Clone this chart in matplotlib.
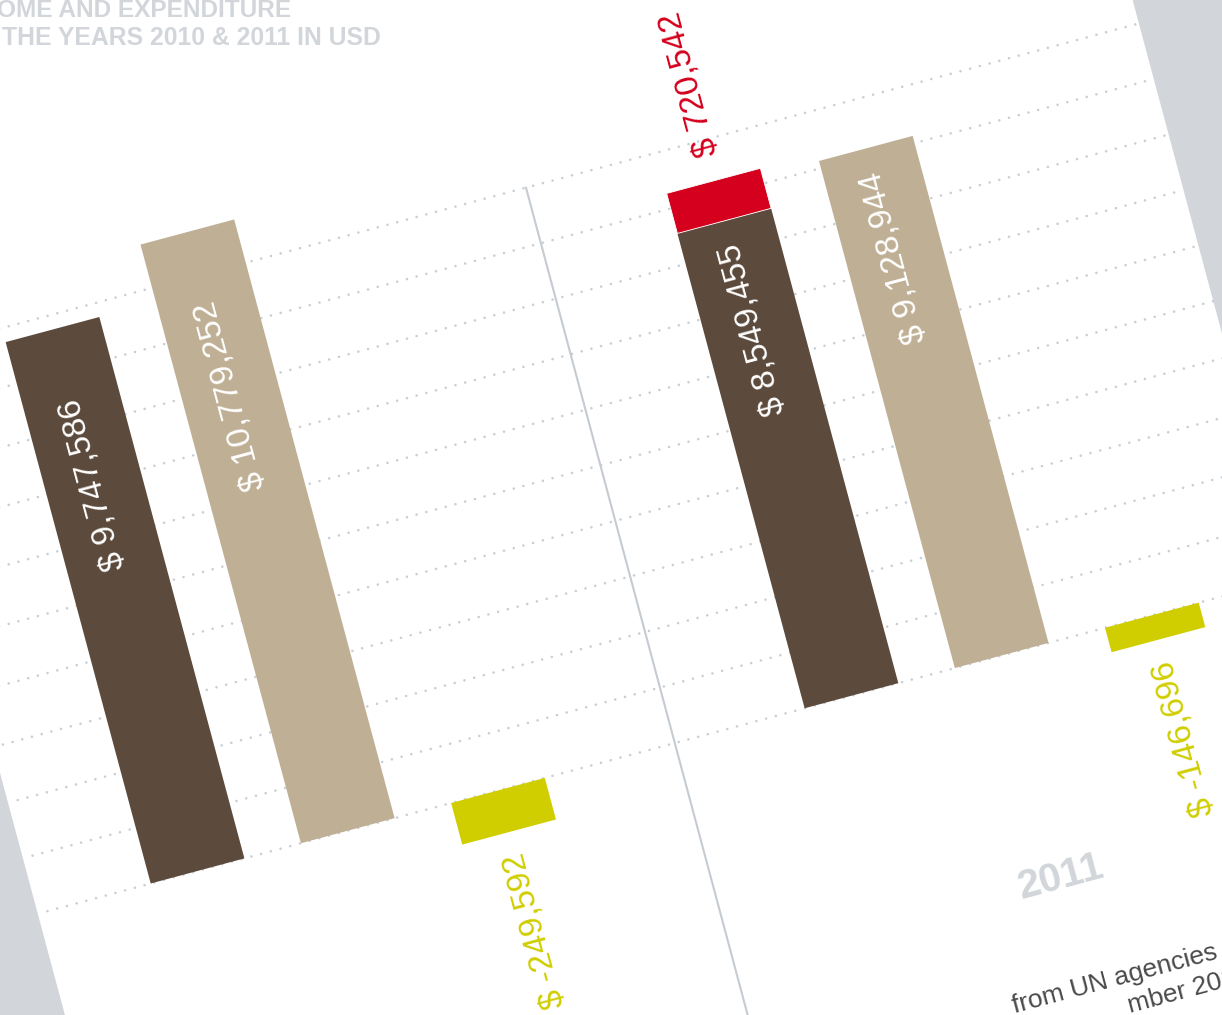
import numpy as np
import matplotlib.pyplot as plt
from matplotlib.transforms import Affine2D
from matplotlib.patches import Rectangle

plt.rcParams['font.family'] = ['Liberation Sans', 'DejaVu Sans']

# data (USD)
years = [2010, 2011]
income = [9747586, 8549455]
extra_income = [0, 720542]
expenditure = [10779252, 9128944]
balance = [-249592, -146696]
grid_steps = list(range(0, 11))  # millions

# colours
BROWN = '#5c4a3c'
TAN = '#bfb095'
YELLOW = '#d0ce00'
RED = '#d4001d'
GREY = '#d2d6da'
DOTS = '#c9ced3'

# layout of the tilted "page" (pixels)
W, H = 1222, 1015
ang = np.radians(15)
c, s = np.cos(ang), np.sin(ang)
BASE = 892.4            # zero line, measured along the page normal
PX = 57.5 / 1e6         # pixels per dollar
BAL_ZOOM = 3            # the small deficit bars are drawn 3x
SLOT = 155.5
BAR_W = 97
group_x = [-34.6, 642.4]
label_gap = [72, 24]
PAGE_L, PAGE_R = -200, 1094

fig = plt.figure(figsize=(W / 100, H / 100), dpi=100)
fig.patch.set_facecolor(GREY)
ax = fig.add_axes([0, 0, 1, 1])
ax.axis('off')

# page coords (x px along the page, y px above zero line) -> screen pixels
page = Affine2D(np.array([[c, -s, s * BASE],
                          [-s, -c, c * BASE],
                          [0, 0, 1]])) + ax.transData
money = Affine2D().scale(1, PX) + page

ax.add_patch(Rectangle((PAGE_L, -2000), PAGE_R - PAGE_L, 4000,
                       transform=page, facecolor='white', edgecolor='none', zorder=0))

# dotted grid lines, one per million
for g in grid_steps:
    ax.plot([-190, PAGE_R], [g * 1e6, g * 1e6], transform=money, color=DOTS,
            lw=1.9, linestyle=(0, (0.01, 3.8)), dash_capstyle='round', zorder=1)

# divider between the years
ax.plot([459.5, 459.5], [10e6, -10e6], transform=money, color='#c5cbd0', lw=1.5, zorder=1)


def fmt(v):
    return f"$ {v:,}"


LBL = 24
for i, yr in enumerate(years):
    x0 = group_x[i]
    ax.bar(x0, income[i], width=BAR_W, color=BROWN, transform=money, zorder=2)
    top = income[i]
    if extra_income[i]:
        ax.bar(x0, extra_income[i], bottom=income[i], width=BAR_W, color=RED,
               edgecolor='white', linewidth=0.6, transform=money, zorder=2)
        top = income[i] + extra_income[i]
        ax.text(x0 + 3, top + 26 / PX, fmt(extra_income[i]), transform=money,
                rotation=105, rotation_mode='anchor', ha='left', va='center',
                color=RED, fontsize=LBL, zorder=3)
    ax.bar(x0 + SLOT, expenditure[i], width=BAR_W, color=TAN, transform=money, zorder=2)
    ax.bar(x0 + 2 * SLOT, balance[i] * BAL_ZOOM, width=BAR_W, color=YELLOW,
           transform=money, zorder=2)

    ax.text(x0, income[i] - label_gap[i] / PX, fmt(income[i]), transform=money,
            rotation=105, rotation_mode='anchor', ha='right', va='center',
            color='white', fontsize=LBL, zorder=3)
    ax.text(x0 + SLOT, expenditure[i] - label_gap[i] / PX, fmt(expenditure[i]),
            transform=money, rotation=105, rotation_mode='anchor', ha='right',
            va='center', color='white', fontsize=LBL, zorder=3)
    ax.text(x0 + 2 * SLOT, balance[i] * BAL_ZOOM - 22 / PX, fmt(balance[i]),
            transform=money, rotation=105, rotation_mode='anchor', ha='right',
            va='center', color=YELLOW, fontsize=LBL, zorder=3)

    ax.text(x0 + SLOT, -229, str(yr), transform=page, rotation=15,
            rotation_mode='anchor', ha='center', va='center', fontsize=29,
            fontweight='bold', color=GREY, zorder=3)

# footnote fragments at the page bottom
ax.text(718, -349, "from UN agencies for", transform=page, rotation=15,
        rotation_mode='anchor', ha='left', va='baseline', fontsize=19, color='#4a4a4a')
ax.text(829, -378, "mber 2011", transform=page, rotation=15,
        rotation_mode='anchor', ha='left', va='baseline', fontsize=19, color='#4a4a4a')

# heading (not tilted)
ax.text(-45, 17, "INCOME AND EXPENDITURE", fontsize=17.6, fontweight='bold',
        color=GREY, va='baseline', ha='left')
ax.text(2, 45, "THE YEARS 2010 & 2011 IN USD", fontsize=17.8, fontweight='bold',
        color=GREY, va='baseline', ha='left')

ax.set_xlim(0, W)
ax.set_ylim(H, 0)

fig.savefig('out.png', dpi=100)
